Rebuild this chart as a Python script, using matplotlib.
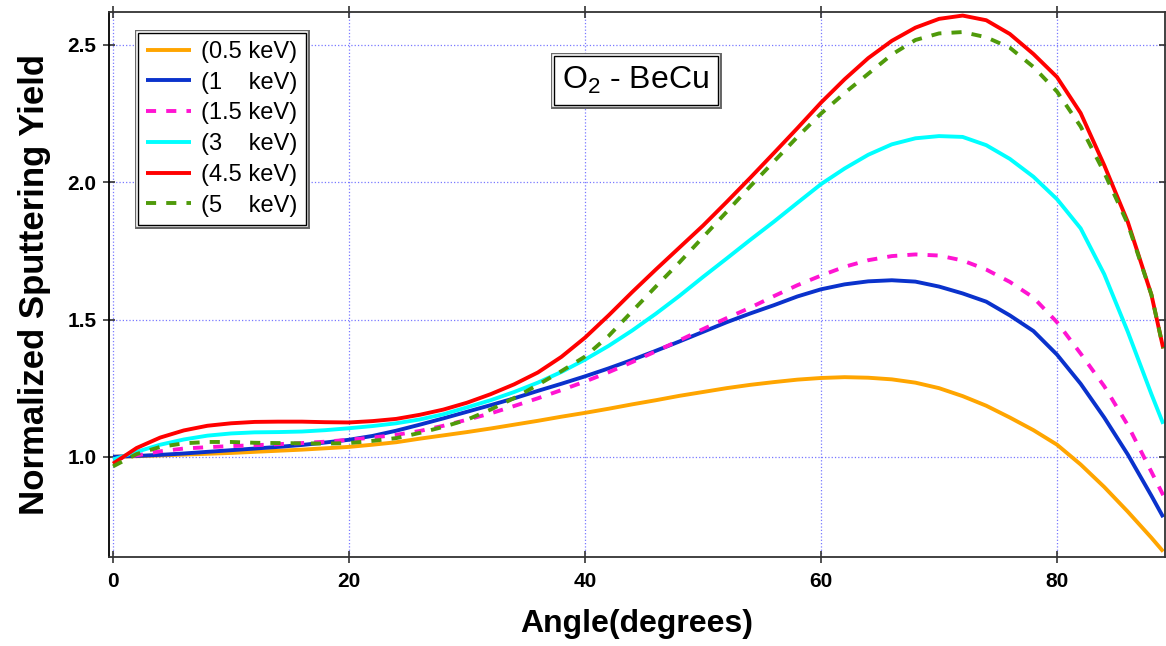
import matplotlib
matplotlib.use('Agg')
import matplotlib.pyplot as plt
import matplotlib.patheffects as pe

plt.rcParams['font.family'] = ['Liberation Sans', 'DejaVu Sans']
plt.rcParams['mathtext.default'] = 'regular'

# Angulos de incidencia (grados)
angle = [0, 2, 4, 6, 8, 10, 12, 14, 16, 18, 20, 22, 24, 26, 28, 30, 32, 34, 36, 38,
         40, 42, 44, 46, 48, 50, 52, 54, 56, 58, 60, 62, 64, 66, 68, 70, 72, 74, 76,
         78, 80, 82, 84, 86, 88, 89]

# Rendimiento normalizado por energia
y_05 = [1.000, 1.002, 1.005, 1.008, 1.011, 1.014, 1.018, 1.022, 1.026, 1.031, 1.036,
        1.044, 1.053, 1.066, 1.078, 1.090, 1.103, 1.117, 1.131, 1.146, 1.160, 1.175,
        1.191, 1.206, 1.222, 1.236, 1.250, 1.262, 1.272, 1.281, 1.287, 1.290, 1.288,
        1.282, 1.270, 1.250, 1.221, 1.186, 1.143, 1.097, 1.044, 0.972, 0.890, 0.800,
        0.705, 0.655]
y_1 = [1.000, 1.003, 1.007, 1.012, 1.018, 1.024, 1.030, 1.036, 1.043, 1.052, 1.062,
       1.076, 1.095, 1.117, 1.140, 1.164, 1.188, 1.213, 1.240, 1.266, 1.293, 1.322,
       1.353, 1.386, 1.420, 1.455, 1.490, 1.522, 1.552, 1.584, 1.610, 1.628, 1.639,
       1.643, 1.638, 1.620, 1.595, 1.565, 1.515, 1.458, 1.372, 1.266, 1.143, 1.008,
       0.858, 0.780]
y_15 = [0.990, 1.005, 1.020, 1.030, 1.035, 1.039, 1.042, 1.046, 1.050, 1.055, 1.062,
        1.070, 1.080, 1.094, 1.113, 1.135, 1.158, 1.185, 1.213, 1.243, 1.274, 1.308,
        1.345, 1.384, 1.424, 1.465, 1.505, 1.543, 1.585, 1.625, 1.660, 1.692, 1.716,
        1.731, 1.737, 1.733, 1.715, 1.682, 1.637, 1.580, 1.490, 1.376, 1.257, 1.115,
        0.945, 0.860]
y_3 = [0.990, 1.018, 1.044, 1.063, 1.077, 1.085, 1.089, 1.090, 1.092, 1.097, 1.104,
       1.112, 1.122, 1.136, 1.155, 1.180, 1.206, 1.236, 1.270, 1.309, 1.354, 1.404,
       1.460, 1.521, 1.586, 1.655, 1.722, 1.790, 1.856, 1.925, 1.993, 2.050, 2.100,
       2.138, 2.160, 2.168, 2.165, 2.135, 2.085, 2.020, 1.938, 1.832, 1.665, 1.455,
       1.228, 1.120]
y_45 = [0.975, 1.032, 1.070, 1.096, 1.113, 1.122, 1.127, 1.128, 1.128, 1.126, 1.125,
        1.130, 1.138, 1.153, 1.172, 1.197, 1.228, 1.264, 1.307, 1.364, 1.434, 1.515,
        1.600, 1.682, 1.762, 1.842, 1.928, 2.016, 2.106, 2.197, 2.290, 2.375, 2.452,
        2.515, 2.563, 2.595, 2.607, 2.590, 2.540, 2.467, 2.383, 2.252, 2.062, 1.855,
        1.590, 1.395]
y_5 = [0.965, 1.010, 1.036, 1.049, 1.054, 1.054, 1.051, 1.050, 1.049, 1.048, 1.050,
       1.058, 1.068, 1.087, 1.109, 1.135, 1.172, 1.214, 1.262, 1.312, 1.365, 1.440,
       1.530, 1.620, 1.708, 1.800, 1.892, 1.985, 2.075, 2.165, 2.250, 2.325, 2.395,
       2.465, 2.518, 2.542, 2.547, 2.528, 2.490, 2.420, 2.330, 2.203, 2.035, 1.848,
       1.590, 1.395]

labels = ['(0.5 keV)', '(1    keV)', '(1.5 keV)', '(3    keV)', '(4.5 keV)', '(5    keV)']
series = [y_05, y_1, y_15, y_3, y_45, y_5]
colors = ['#FFA500', '#0A32CC', '#FF14D2', '#00FFFF', '#FF0000', '#4F9A0A']
styles = ['-', '-', (0, (2.6, 2.6)), '-', '-', (0, (2.6, 2.6))]

fig = plt.figure(figsize=(11.66, 6.46), dpi=100)
ax = fig.add_axes([109 / 1166, 89 / 646, 1056 / 1166, 545 / 646])

for y, lab, c, ls in zip(series, labels, colors, styles):
    ax.plot(angle, y, color=c, linestyle=ls, linewidth=2.8, label=lab,
            dash_capstyle='butt', solid_capstyle='butt', solid_joinstyle='round')

ax.set_xlim(-0.34, 89.15)
ax.set_ylim(0.635, 2.62)
ax.set_xticks([0, 20, 40, 60, 80])
ax.set_yticks([1.0, 1.5, 2.0, 2.5])
ax.grid(True, color='#7878ff', linestyle=':', linewidth=0.9)
ax.tick_params(direction='inout', length=8, width=1.2, top=True, right=True,
               labelsize=15, pad=5, colors='#333333', labelcolor='black')
ax.tick_params(axis='x', pad=7)
for t in ax.get_xticklabels() + ax.get_yticklabels():
    t.set_fontweight('bold')
for s in ax.spines.values():
    s.set_color('#333333')
    s.set_linewidth(1.3)
ax.spines['left'].set_color('black')

ax.set_xlabel('Angle(degrees)', fontsize=23, fontweight='bold', labelpad=13)
ax.set_ylabel('Normalized Sputtering Yield', fontsize=25, fontweight='bold', labelpad=12)

double = [pe.Stroke(linewidth=5, foreground='#666666'),
          pe.Stroke(linewidth=2.6, foreground='white'),
          pe.Normal()]

leg = ax.legend(loc='upper left', bbox_to_anchor=(0.027, 0.962), borderaxespad=0,
                fontsize=17, handlelength=1.9, handletextpad=0.45, labelspacing=0.37,
                borderpad=0.35, fancybox=False, framealpha=1, edgecolor='black')
leg.get_frame().set_linewidth(1.0)
leg.get_frame().set_path_effects(double)

txt = ax.text(0.499, 0.875, r'O$_2$ - BeCu', transform=ax.transAxes, fontsize=23,
              ha='center', va='center',
              bbox=dict(boxstyle='square,pad=0.28', fc='white', ec='black', lw=1.0))
txt.get_bbox_patch().set_path_effects(double)

fig.savefig('out.png', dpi=100)
